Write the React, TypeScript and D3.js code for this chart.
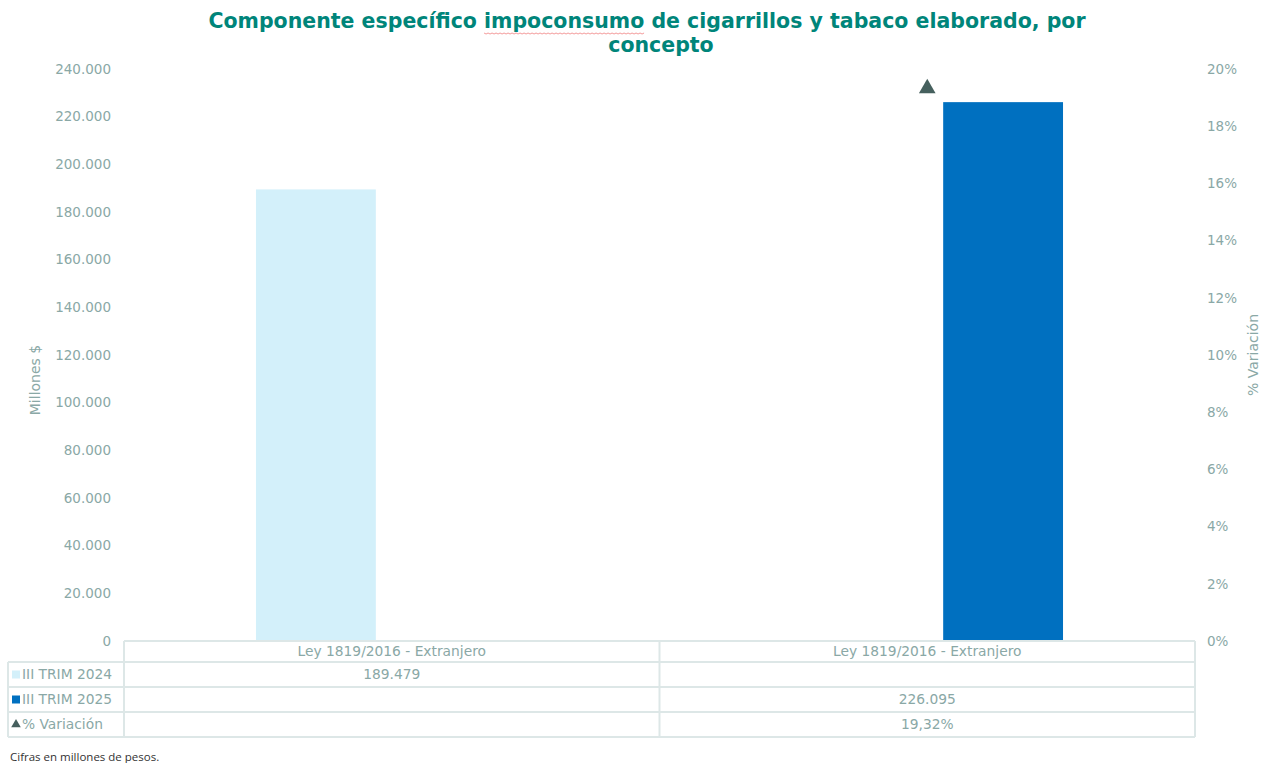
import * as d3 from "d3";
import { useEffect, useRef } from "react";

const CATEGORIES = ["Ley 1819/2016 - Extranjero", "Ley 1819/2016 - Extranjero"];
const SERIES = ["III TRIM 2024", "III TRIM 2025"];
const VALUES_2024: (number | null)[] = [189479, null];
const VALUES_2025: (number | null)[] = [null, 226095];
const VARIATION: (number | null)[] = [null, 0.1932];
const LEFT_TICKS = [0, 20000, 40000, 60000, 80000, 100000, 120000, 140000, 160000, 180000, 200000, 220000, 240000];
const RIGHT_TICKS = [0, 0.02, 0.04, 0.06, 0.08, 0.1, 0.12, 0.14, 0.16, 0.18, 0.2];

const es = d3.formatLocale({ decimal: ",", thousands: ".", grouping: [3], currency: ["$", ""] });
const fmtNum = es.format(",.0f");
const fmtPct = es.format(".0%");
const fmtPct2 = es.format(".2%");

const FONT = "'DejaVu Sans', Verdana, sans-serif";
const AXIS_COLOR = "#8aa8a6";
const GRID = "#dde7e7";
const COLORS = ["#d3f0fa", "#0070c0"];
const TRI = "#46605e";
const TITLE_1 = "Componente específico impoconsumo de cigarrillos y tabaco elaborado, por";
const TITLE_2 = "concepto";

export default function App() {
  const ref = useRef<SVGSVGElement | null>(null);

  useEffect(() => {
    document.body.style.margin = "0";
    const width = 1272;
    const height = 763;
    const left = 124;
    const right = 1195;
    const top = 69;
    const bottom = 641;

    const svg = d3.select(ref.current);
    svg.selectAll("*").remove();
    svg.attr("width", width).attr("height", height).attr("viewBox", `0 0 ${width} ${height}`);
    svg.append("rect").attr("width", width).attr("height", height).attr("fill", "#fff");

    // title
    const title = svg.append("text")
      .attr("text-anchor", "middle")
      .attr("fill", "#00857a")
      .attr("font-family", FONT)
      .attr("font-weight", "bold")
      .attr("font-size", 20.5);
    const line1 = title.append("tspan").attr("x", 647).attr("y", 28).text(TITLE_1);
    title.append("tspan").attr("x", 661).attr("y", 52).text(TITLE_2);

    // spell-check squiggle under "impoconsumo"
    const node = line1.node() as SVGTSpanElement | null;
    if (node) {
      const word = "impoconsumo";
      const idx = TITLE_1.indexOf(word);
      const total = node.getComputedTextLength();
      const x0 = 647 - total / 2 + node.getSubStringLength(0, idx);
      const w = node.getSubStringLength(idx, word.length);
      const pts: [number, number][] = d3.range(0, Math.floor(w / 2) + 1).map((k) => [x0 + k * 2, 33 + (k % 2 ? 1 : 0)]);
      svg.append("path")
        .attr("d", d3.line()(pts) ?? "")
        .attr("fill", "none")
        .attr("stroke", "#f08080")
        .attr("stroke-width", 0.8);
    }

    const x = d3.scaleBand<number>().domain(CATEGORIES.map((_, i) => i)).range([left, right]).padding(0);
    const xs = d3.scaleBand<number>().domain([0, 1]).range([0, x.bandwidth()]).paddingInner(0.21).paddingOuter(0.87);
    const y = d3.scaleLinear().domain([0, 240000]).range([bottom, top]);
    const y2 = d3.scaleLinear().domain([0, 0.2]).range([bottom, top]);

    // left axis
    const la = svg.append("g")
      .attr("transform", `translate(${left - 13},0)`)
      .call(d3.axisLeft(y).tickValues(LEFT_TICKS).tickSize(0).tickPadding(0).tickFormat((d) => fmtNum(d as number)));
    la.select(".domain").remove();
    la.selectAll("text").attr("fill", AXIS_COLOR).attr("font-family", FONT).attr("font-size", 13.5);

    // right axis
    const ra = svg.append("g")
      .attr("transform", `translate(${right + 12},0)`)
      .call(d3.axisRight(y2).tickValues(RIGHT_TICKS).tickSize(0).tickPadding(0).tickFormat((d) => fmtPct(d as number)));
    ra.select(".domain").remove();
    ra.selectAll("text").attr("fill", AXIS_COLOR).attr("font-family", FONT).attr("font-size", 13.5);

    svg.append("text")
      .attr("transform", `translate(40,380) rotate(-90)`)
      .attr("text-anchor", "middle")
      .attr("fill", AXIS_COLOR)
      .attr("font-family", FONT)
      .attr("font-size", 14)
      .text("Millones $");
    svg.append("text")
      .attr("transform", `translate(1258,355) rotate(-90)`)
      .attr("text-anchor", "middle")
      .attr("fill", AXIS_COLOR)
      .attr("font-family", FONT)
      .attr("font-size", 14)
      .text("% Variación");

    // bars
    [VALUES_2024, VALUES_2025].forEach((vals, s) => {
      vals.forEach((v, i) => {
        if (v == null) return;
        svg.append("rect")
          .attr("x", (x(i) ?? 0) + (xs(s) ?? 0))
          .attr("y", y(v))
          .attr("width", xs.bandwidth())
          .attr("height", y(0) - y(v))
          .attr("fill", COLORS[s]);
      });
    });

    // variation markers
    const tri = d3.symbol().type(d3.symbolTriangle).size(120);
    VARIATION.forEach((v, i) => {
      if (v == null) return;
      svg.append("path")
        .attr("d", tri() ?? "")
        .attr("transform", `translate(${(x(i) ?? 0) + x.bandwidth() / 2},${y2(v)})`)
        .attr("fill", TRI);
    });

    // data table
    const rows = [bottom, 662, 687, 712, 737];
    const tbl = svg.append("g").attr("fill", "none").attr("stroke", GRID).attr("stroke-width", 2);
    tbl.append("line").attr("x1", left).attr("x2", right).attr("y1", rows[0]).attr("y2", rows[0]);
    rows.slice(1).forEach((ry) => {
      tbl.append("line").attr("x1", 8).attr("x2", right).attr("y1", ry).attr("y2", ry);
    });
    tbl.append("line").attr("x1", 8).attr("x2", 8).attr("y1", rows[1]).attr("y2", rows[4]);
    CATEGORIES.forEach((_, i) => {
      tbl.append("line").attr("x1", x(i) ?? 0).attr("x2", x(i) ?? 0).attr("y1", rows[0]).attr("y2", rows[4]);
    });
    tbl.append("line").attr("x1", right).attr("x2", right).attr("y1", rows[0]).attr("y2", rows[4]);

    const cellText = (cx: number, cy: number, t: string, anchor = "middle") =>
      svg.append("text")
        .attr("x", cx)
        .attr("y", cy)
        .attr("dy", "0.35em")
        .attr("text-anchor", anchor)
        .attr("fill", AXIS_COLOR)
        .attr("font-family", FONT)
        .attr("font-size", 13.8)
        .text(t);

    CATEGORIES.forEach((c, i) => {
      const cx = (x(i) ?? 0) + x.bandwidth() / 2;
      cellText(cx, (rows[0] + rows[1]) / 2, c);
      const a = VALUES_2024[i];
      const b = VALUES_2025[i];
      const p = VARIATION[i];
      if (a != null) cellText(cx, (rows[1] + rows[2]) / 2, fmtNum(a));
      if (b != null) cellText(cx, (rows[2] + rows[3]) / 2, fmtNum(b));
      if (p != null) cellText(cx, (rows[3] + rows[4]) / 2, fmtPct2(p));
    });

    // legend keys
    SERIES.forEach((s, k) => {
      const cy = (rows[k + 1] + rows[k + 2]) / 2;
      svg.append("rect").attr("x", 12).attr("y", cy - 4).attr("width", 8).attr("height", 8).attr("fill", COLORS[k]);
      cellText(22, cy, s, "start");
    });
    const cy3 = (rows[3] + rows[4]) / 2;
    svg.append("path")
      .attr("d", d3.symbol().type(d3.symbolTriangle).size(40)() ?? "")
      .attr("transform", `translate(16,${cy3})`)
      .attr("fill", TRI);
    cellText(22, cy3, "% Variación", "start");

    svg.append("text")
      .attr("x", 10)
      .attr("y", 761)
      .attr("fill", "#333")
      .attr("font-family", "'Open Sans', 'Liberation Sans', sans-serif")
      .attr("font-size", 11.5)
      .text("Cifras en millones de pesos.");
  }, []);

  return <svg ref={ref} />;
}
